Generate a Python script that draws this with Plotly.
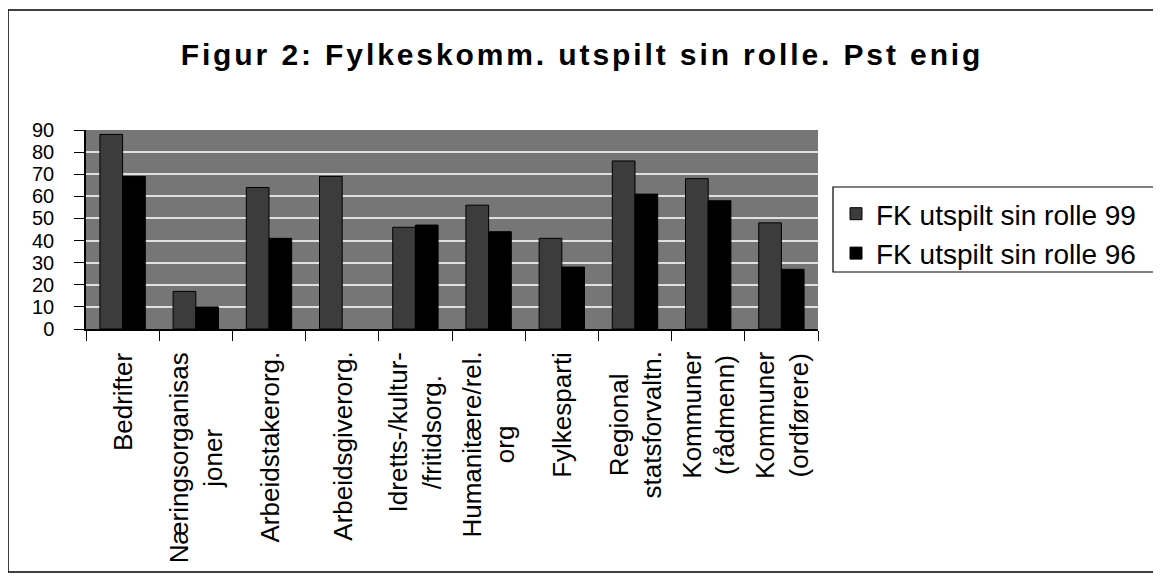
import plotly.graph_objects as go

categories = ["Bedrifter", "Næringsorganisasjoner", "Arbeidstakerorg.", "Arbeidsgiverorg.",
              "Idretts-/kultur-/fritidsorg.", "Humanitære/rel. org", "Fylkesparti",
              "Regional statsforvaltn.", "Kommuner (rådmenn)", "Kommuner (ordførere)"]
tick_labels = ["Bedrifter", "Næringsorganisas<br>joner", "Arbeidstakerorg.", "Arbeidsgiverorg.",
               "Idretts-/kultur-<br>/fritidsorg.", "Humanitære/rel.<br>org", "Fylkesparti",
               "Regional<br>statsforvaltn.", "Kommuner<br>(rådmenn)", "Kommuner<br>(ordførere)"]
values_99 = [88, 17, 64, 69, 46, 56, 41, 76, 68, 48]
values_96 = [69, 10, 41, None, 47, 44, 28, 61, 58, 27]
series_names = ["FK utspilt sin rolle 99", "FK utspilt sin rolle 96"]
title_text = "Figur 2: Fylkeskomm. utspilt sin rolle. Pst enig"

# page body has an 8px margin; target pixel coords are given in window space
OFF = 8
W, H = 1161, 580
L, R, T, B = 86 - OFF, 818 - OFF, 130 - OFF, 329 - OFF
pw, ph = R - L, B - T

def px_x(p):
    return (p - OFF - L) / pw

def px_y(p):
    return (B - (p - OFF)) / ph

FONT = "Liberation Sans, Arial"

fig = go.Figure()
fig.add_trace(go.Bar(x=categories, y=values_99, name=series_names[0],
                     marker=dict(color="#3c3c3c", line=dict(color="#000000", width=1))))
fig.add_trace(go.Bar(x=categories, y=values_96, name=series_names[1],
                     marker=dict(color="#000000", line=dict(color="#000000", width=1))))

annotations = []
for cat, lab in zip(categories, tick_labels):
    annotations.append(dict(x=cat, xref="x", y=px_y(350), yref="paper", text=lab,
                            textangle=-90, showarrow=False, xanchor="center", yanchor="top",
                            align="center", font=dict(family=FONT, size=26, color="#000")))

fig.update_layout(
    width=W, height=H,
    margin=dict(l=L, r=W - R, t=T, b=H - B, pad=0),
    paper_bgcolor="white",
    plot_bgcolor="#767676",
    barmode="group",
    bargap=0.38,
    bargroupgap=0,
    title=dict(text="<b>" + title_text + "</b>", x=(582 - OFF) / W, xref="container",
               xanchor="center", y=1 - (54 - OFF) / H, yref="container", yanchor="middle",
               font=dict(family=FONT, size=30, color="#000")),
    legend=dict(x=px_x(836), y=px_y(189), xanchor="left", yanchor="top",
                bgcolor="rgba(0,0,0,0)", borderwidth=0,
                font=dict(family=FONT, size=28, color="#000"),
                tracegroupgap=0),
    annotations=annotations,
    shapes=[
        dict(type="rect", xref="paper", yref="paper",
             x0=px_x(8), x1=px_x(1180), y0=px_y(572), y1=px_y(10),
             line=dict(color="#000", width=1.5), fillcolor="rgba(0,0,0,0)", layer="below"),
        dict(type="rect", xref="paper", yref="paper",
             x0=px_x(833), x1=px_x(1180), y0=px_y(272), y1=px_y(187),
             line=dict(color="#000", width=1.2), fillcolor="white", layer="below"),
    ],
)
fig.update_xaxes(showticklabels=False, ticks="outside", ticklen=10, tickcolor="#000",
                 tickson="boundaries", showline=True, linecolor="#000", linewidth=1.5,
                 showgrid=False)
fig.update_yaxes(range=[0, 90], dtick=10, ticks="outside", ticklen=10, tickcolor="#000",
                 showline=True, linecolor="#000", linewidth=1.5,
                 showgrid=True, gridcolor="#e0e0e0", gridwidth=1.5, zeroline=False,
                 ticklabelstandoff=16,
                 tickfont=dict(family=FONT, size=20, color="#000"))

post = """
var gd = document.getElementsByClassName('plotly-graph-div')[0];
function spacing(){
  document.querySelectorAll('.gtitle').forEach(function(t){t.style.letterSpacing='2.9px';});
}
spacing();
if (gd && gd.on) { gd.on('plotly_afterplot', spacing); }
"""

fig.write_html("out.html", post_script=post)
